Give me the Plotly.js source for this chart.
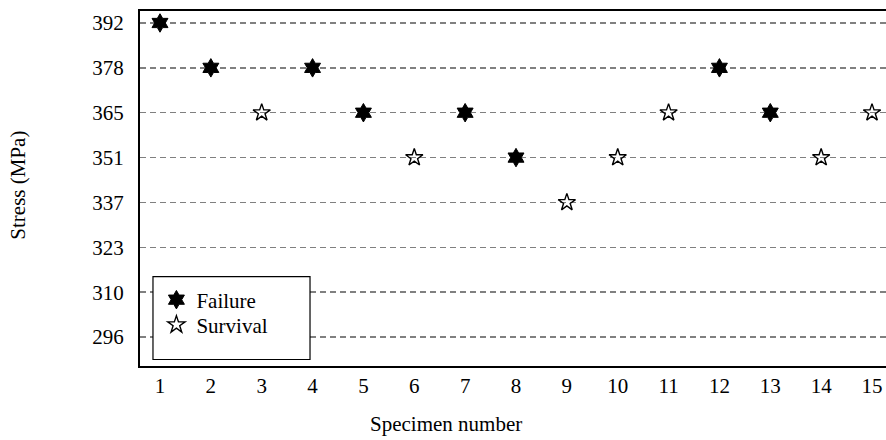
<!DOCTYPE html>
<html>
<head>
<meta charset="utf-8">
<script src="https://cdn.plot.ly/plotly-3.0.1.min.js"></script>
<style>html,body{margin:0;padding:0;background:#fff;}#chart{width:886px;height:440px;}</style>
</head>
<body>
<div id="chart"></div>
<script>
// Stress levels (tick labels, bottom to top)
const stressLevels = ['296', '310', '323', '337', '351', '365', '378', '392'];

// Failure specimens
const failureSpecimen = [1, 2, 4, 5, 7, 8, 12, 13];
const failureStress   = ['392', '378', '378', '365', '365', '351', '378', '365'];

// Survival (run-out) specimens
const survivalSpecimen = [3, 6, 9, 10, 11, 14, 15];
const survivalStress   = ['365', '351', '337', '351', '365', '351', '365'];

const specimenTicks = [1,2,3,4,5,6,7,8,9,10,11,12,13,14,15];

const fontFam = '"Liberation Serif", "Times New Roman", serif';
const FS = 21;

const traces = [
  {
    x: failureSpecimen, y: failureStress, name: 'Failure', legend: 'legend',
    type: 'scatter', mode: 'markers',
    marker: {symbol: 'hexagram', size: 14, color: '#000', line: {color: '#000', width: 1}}
  },
  {
    x: survivalSpecimen, y: survivalStress, name: 'Survival', legend: 'legend2',
    type: 'scatter', mode: 'markers',
    marker: {symbol: 'star-open', size: 13, color: '#000', line: {color: '#000', width: 1.4}}
  }
];

const legendStyle = {
  xanchor: 'left', yanchor: 'top',
  bgcolor: 'rgba(0,0,0,0)', borderwidth: 0,
  font: {family: fontFam, size: FS, color: '#000'},
  itemwidth: 30
};

const layout = {
  width: 886, height: 440,
  margin: {l: 140, r: 0, t: 11, b: 74},
  paper_bgcolor: '#fff', plot_bgcolor: '#fff',
  font: {family: fontFam, size: FS, color: '#000'},
  showlegend: true,
  legend: Object.assign({x: 0.022, y: 0.2436}, legendStyle),
  legend2: Object.assign({x: 0.022, y: 0.173}, legendStyle),
  shapes: [
    {type: 'rect', xref: 'paper', yref: 'paper', x0: 0.0174, x1: 0.2279, y0: 0.0183, y1: 0.2518,
     fillcolor: '#fff', line: {color: '#000', width: 1.2}, layer: 'above'}
  ],
  annotations: [
    {text: 'Specimen number', xref: 'paper', yref: 'paper', x: 0.41, y: -0.1646,
     xanchor: 'center', yanchor: 'middle', showarrow: false,
     font: {family: fontFam, size: FS, color: '#000'}},
    {text: 'Stress (MPa)', xref: 'paper', yref: 'paper', x: -0.1635, y: 0.508,
     xanchor: 'center', yanchor: 'middle', textangle: -90, showarrow: false,
     font: {family: fontFam, size: FS, color: '#000'}}
  ],
  xaxis: {
    range: [0.607, 15.275],
    tickmode: 'array', tickvals: specimenTicks, ticktext: specimenTicks.map(String),
    showgrid: false, zeroline: false,
    showline: true, mirror: true, linecolor: '#000', linewidth: 2,
    ticks: '', ticklabelstandoff: 0,
    tickfont: {family: fontFam, size: FS, color: '#000'}
  },
  yaxis: {
    type: 'category', categoryorder: 'array', categoryarray: stressLevels,
    range: [-0.645, 7.267],
    tickmode: 'array', tickvals: stressLevels, ticktext: stressLevels,
    showgrid: true, gridcolor: '#808080', griddash: '6px,4px', gridwidth: 1.5,
    zeroline: false,
    showline: true, mirror: false, linecolor: '#000', linewidth: 2,
    ticks: '', ticklabelstandoff: 10,
    layer: 'above traces',
    tickfont: {family: fontFam, size: FS, color: '#000'}
  }
};

Plotly.newPlot('chart', traces, layout, {displayModeBar: false, staticPlot: true});
</script>
</body>
</html>
